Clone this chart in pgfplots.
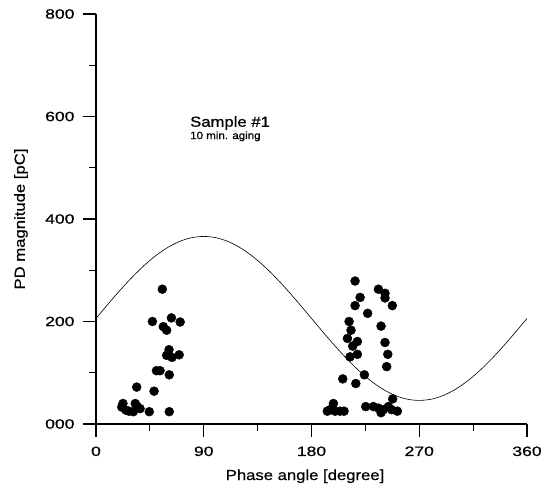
\documentclass[border=0pt]{standalone}
\usepackage{fontspec}
\setmainfont{Liberation Sans}
\newfontfamily\tickfont[FakeStretch=1.3,FakeBold=0.8]{Liberation Sans}
\newfontfamily\labfont[FakeStretch=1.15,FakeBold=0.6]{Liberation Sans}
\newfontfamily\smfont[FakeStretch=1.1,FakeBold=0.8]{Liberation Sans}
\usepackage{pgfplots}
\pgfplotsset{compat=1.18}
\begin{document}
\begin{tikzpicture}
\begin{axis}[
  at={(0,0)}, anchor=south west,
  scale only axis, width=431pt, height=410pt,
  xmin=0, xmax=360, ymin=0, ymax=800,
  axis x line=bottom, axis y line=left,
  x axis line style={-, line width=1.1pt},
  y axis line style={-, line width=1.8pt},
  tick align=outside,
  major tick length=13pt, minor tick length=7pt,
  every tick/.style={black, line width=1.1pt},
  xtick={0,90,180,270,360}, xticklabels={0,90,180,270,360},
  minor xtick={45,135,225,315},
  ytick={0,200,400,600,800}, yticklabels={000,200,400,600,800},
  minor ytick={100,300,500,700},
  ticklabel style={font=\tickfont\fontsize{13.5}{15}\selectfont},
  xticklabel style={yshift=-6pt},
  yticklabel style={xshift=-5pt},
  xlabel={Phase angle [degree]},
  ylabel={PD magnitude [pC]},
  label style={font=\labfont\fontsize{14.5}{17}\selectfont},
  xlabel style={at={(axis description cs:0.485,-0.1366)}, anchor=base},
  ylabel style={at={(axis description cs:-0.174,0.5)}, anchor=center, rotate=0},
  clip=false,
]
\addplot[black, line width=0.6pt, smooth] coordinates {
(0,206)(10,233.8)(20,260.7)(30,286)(40,308.8)(50,328.6)(60,344.6)(70,356.4)(80,363.6)(90,366)
(100,363.6)(110,356.4)(120,344.6)(130,328.6)(140,308.8)(150,286)(160,260.7)(170,233.8)(180,206)
(190,178.2)(200,151.3)(210,126)(220,103.2)(230,83.4)(240,67.4)(250,55.6)(260,48.4)(270,46)
(280,48.4)(290,55.6)(300,67.4)(310,83.4)(320,103.2)(330,126)(340,151.3)(350,178.2)(360,206)
};
\addplot[only marks, mark=*, mark size=4.5pt, black] coordinates {
(55.4,263)(47.1,200)(56.2,190)(59,183)(63,207)(70.3,199)(61,145)(59,134)(63.5,130)(69.5,135)
(61.2,96)(50.5,104)(53.5,104)(34,72)(48.5,64)(22.5,40)(21.5,33)(25,27)(32.8,40)(34.5,34)
(31.2,24)(36.8,30)(44.5,24)(61.2,24)(27.5,25)
};
\addplot[only marks, mark=*, mark size=4.5pt, black] coordinates {
(216.4,279)(235.9,263)(241.4,255)(220.6,247)(241.4,246)(216.4,231)(247.5,231)(226.9,216)
(211.4,200)(238.1,191)(213,183)(210,167)(218.3,161)(241.4,159)(214.4,152)(212.2,131)
(218.3,136)(243.7,136)(242.8,112)(224.2,96)(206.1,88)(217,79)(247.8,49)(198.3,40)
(195.5,28)(199.7,25)(203.8,25)(207.2,25)(193.2,25)(225.3,34)(231.7,34)(235.9,31)
(240,28)(244.2,34)(238.1,22)(246.9,28)(251.7,25)
};
\node[anchor=base west, font=\labfont\fontsize{14.5}{17}\selectfont, inner sep=0pt] at (axis cs:78.5,580) {Sample \#1};
\node[anchor=base west, font=\smfont\fontsize{10.5}{12}\selectfont, inner sep=0pt] at (axis cs:78.5,556) {10 min. aging};
\end{axis}
\pgfresetboundingbox
\path (-96pt,-64pt) rectangle (455pt,424pt);
\end{tikzpicture}
\end{document}
